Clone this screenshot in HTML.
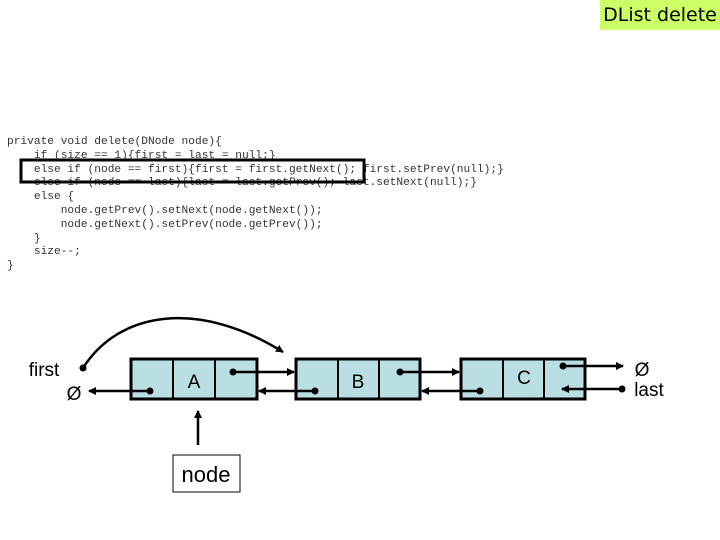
<!DOCTYPE html>
<html><head><meta charset="utf-8"><style>
body{margin:0;width:720px;height:540px;background:#fff;overflow:hidden;position:relative;font-family:"Liberation Sans",sans-serif}
.t{position:absolute;left:600px;top:0;width:120px;height:30px;background:#ccff66;font-size:19px;text-align:center;line-height:30px;font-family:"DejaVu Sans",sans-serif}
pre{position:absolute;left:7px;top:136px;margin:0;font-family:"Liberation Mono",monospace;font-size:11.2px;line-height:13.8px;color:#333}
</style></head><body>
<div class="t">DList delete</div>
<pre>private void delete(DNode node){
    if (size == 1){first = last = null;}
    else if (node == first){first = first.getNext(); first.setPrev(null);}
    else if (node == last){last = last.getPrev(); last.setNext(null);}
    else {
        node.getPrev().setNext(node.getNext());
        node.getNext().setPrev(node.getPrev());
    }
    size--;
}</pre>
<svg width="720" height="540" style="position:absolute;left:0;top:0">
<defs><marker id="a" markerWidth="8" markerHeight="8" refX="7" refY="4" orient="auto" markerUnits="userSpaceOnUse"><path d="M0,0L8,4L0,8z" fill="#000"/></marker></defs>
<rect x="21" y="160" width="343" height="22" fill="none" stroke="#000" stroke-width="3"/>
<g fill="#b9dfe3" stroke="#000" stroke-width="3">
<rect x="131" y="359" width="126" height="40"/><rect x="296" y="359" width="124" height="40"/><rect x="461" y="359" width="124" height="40"/>
</g>
<g stroke="#000" stroke-width="2">
<line x1="173" y1="359" x2="173" y2="399"/><line x1="215" y1="359" x2="215" y2="399"/>
<line x1="338" y1="359" x2="338" y2="399"/><line x1="379" y1="359" x2="379" y2="399"/>
<line x1="503" y1="359" x2="503" y2="399"/><line x1="544" y1="359" x2="544" y2="399"/>
</g>
<g stroke="#000" stroke-width="2.5" fill="none" marker-end="url(#a)">
<line x1="233" y1="372" x2="294" y2="372"/>
<line x1="315" y1="391" x2="259" y2="391"/>
<line x1="400" y1="372" x2="459" y2="372"/>
<line x1="480" y1="391" x2="422" y2="391"/>
<line x1="563" y1="366" x2="623" y2="366"/>
<line x1="622" y1="389" x2="562" y2="389"/>
<line x1="150" y1="391" x2="89" y2="391"/>
<line x1="198" y1="445" x2="198" y2="411"/>
<path d="M83,368 C120,310 200,300 283,352"/>
</g>
<g fill="#000"><circle cx="233" cy="372" r="3.5"/><circle cx="150" cy="391" r="3.5"/><circle cx="315" cy="391" r="3.5"/><circle cx="400" cy="372" r="3.5"/><circle cx="480" cy="391" r="3.5"/><circle cx="563" cy="366" r="3.5"/><circle cx="622" cy="389" r="3.5"/><circle cx="83" cy="368" r="3.5"/></g>
<g font-family="Liberation Sans,sans-serif" font-size="19" text-anchor="middle">
<text x="194" y="388">A</text><text x="358" y="388">B</text><text x="524" y="384">C</text>
<text x="44" y="376">first</text><text x="74" y="400">Ø</text><text x="642" y="376">Ø</text><text x="649" y="396">last</text>
</g>
<rect x="173" y="455" width="67" height="37" fill="#fff" stroke="#000" stroke-width="1"/>
<text x="206" y="482" font-family="Liberation Sans,sans-serif" font-size="22" text-anchor="middle">node</text>
</svg>
</body></html>
